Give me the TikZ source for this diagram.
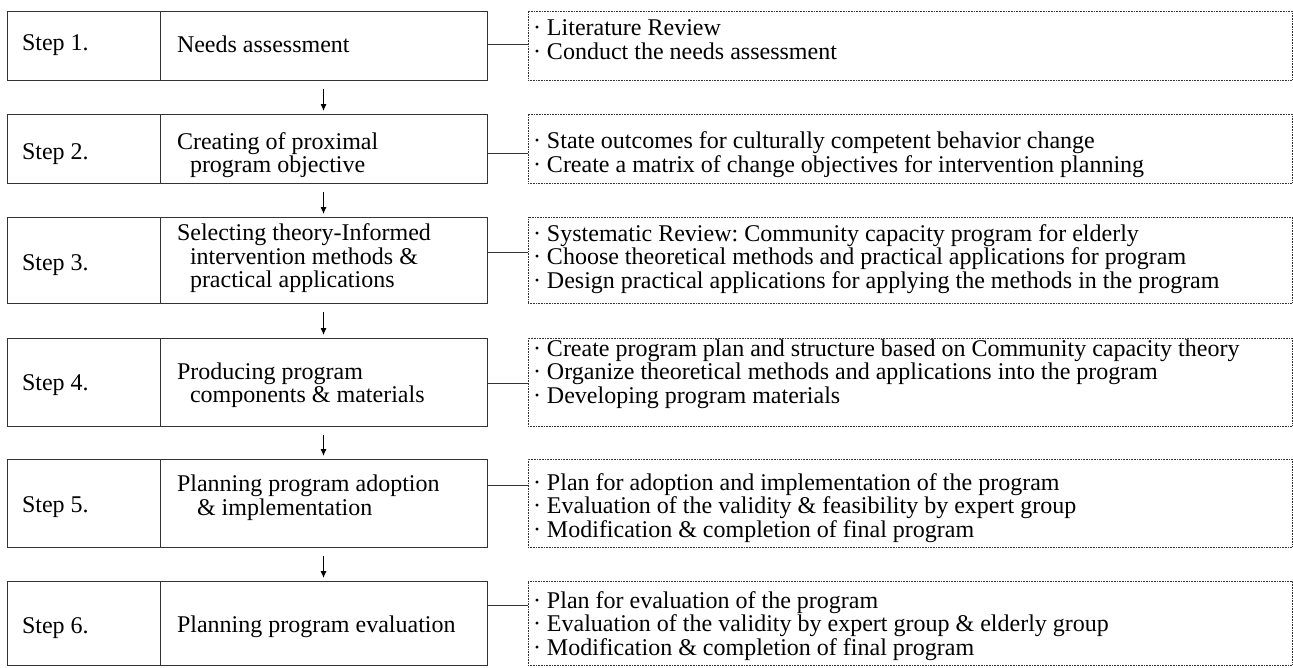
\documentclass[tikz,border=0pt]{standalone}
\usepackage{fontspec}
\setmainfont{Liberation Serif}
\usetikzlibrary{arrows.meta, positioning}
\definecolor{boxline}{HTML}{333333}

\begin{document}
\frenchspacing
\begin{tikzpicture}[
  x=1pt, y=1pt,
  node distance=34pt and 0pt,
  every node/.style={font=\fontsize{24}{23.5}\selectfont},
  labbox/.style={rectangle, draw=boxline, line width=1pt, outer sep=0pt, minimum width=153pt},
  titlebox/.style={rectangle, draw=boxline, line width=1pt, outer sep=0pt, minimum width=327pt},
  notebox/.style={rectangle, draw=boxline, densely dotted, line width=0.6pt, outer sep=0pt, minimum width=764pt},
  boxtext/.style={inner sep=0pt, outer sep=0pt, anchor=west, align=flush left},
  arrow/.style={-{Latex[length=7pt,width=6pt]}, line width=1pt, shorten <=9pt, shorten >=3pt},
  link/.style={line width=0.9pt, draw=boxline}
]
  \useasboundingbox (0,0) rectangle (1293,-667);

  % step 1
  \node[labbox, minimum height=69pt, anchor=north west] (lab1) at (7,-11) {};
  \node[titlebox, minimum height=69pt, right=0pt of lab1] (st1) {};
  \node[notebox, minimum height=69pt, right=41pt of st1] (nt1) {};
  \node[boxtext, right=17pt of st1.west, yshift=1pt] (tt1) {Needs assessment};
  \node[boxtext, right=5pt of nt1.west, yshift=6pt] (tx1) {· Literature Review\\· Conduct the needs assessment};

  % step 2
  \node[labbox, minimum height=69pt, below=of lab1] (lab2) {};
  \node[titlebox, minimum height=69pt, right=0pt of lab2] (st2) {};
  \node[notebox, minimum height=69pt, right=41pt of st2] (nt2) {};
  \node[boxtext, right=17pt of st2.west, yshift=-6.5pt] (tt2) {Creating of proximal\\\hspace*{13pt}program objective};
  \node[boxtext, right=5pt of nt2.west, yshift=-6pt] (tx2) {· State outcomes for culturally competent behavior change\\· Create a matrix of change objectives for intervention planning};

  % step 3
  \node[labbox, minimum height=86pt, below=of lab2] (lab3) {};
  \node[titlebox, minimum height=86pt, right=0pt of lab3] (st3) {};
  \node[notebox, minimum height=86pt, right=41pt of st3] (nt3) {};
  \node[boxtext, right=17pt of st3.west, yshift=1.5pt] (tt3) {Selecting theory-Informed\\\hspace*{13pt}intervention methods \&\\\hspace*{13pt}practical applications};
  \node[boxtext, right=5pt of nt3.west, yshift=1pt] (tx3) {· Systematic Review: Community capacity program for elderly\\· Choose theoretical methods and practical applications for program\\· Design practical applications for applying the methods in the program};

  % step 4
  \node[labbox, minimum height=88pt, below=35pt of lab3] (lab4) {};
  \node[titlebox, minimum height=88pt, right=0pt of lab4] (st4) {};
  \node[notebox, minimum height=88pt, right=41pt of st4] (nt4) {};
  \node[boxtext, right=17pt of st4.west, yshift=-3pt] (tt4) {Producing program\\\hspace*{13pt}components \& materials};
  \node[boxtext, right=5pt of nt4.west, yshift=8pt] (tx4) {· Create program plan and structure based on Community capacity theory\\· Organize theoretical methods and applications into the program\\· Developing program materials};

  % step 5
  \node[labbox, minimum height=88pt, below=33pt of lab4] (lab5) {};
  \node[titlebox, minimum height=88pt, right=0pt of lab5] (st5) {};
  \node[notebox, minimum height=88pt, right=41pt of st5] (nt5) {};
  \node[boxtext, right=17pt of st5.west, yshift=5.5pt] (tt5) {Planning program adoption\\\hspace*{20pt}\& implementation};
  \node[boxtext, right=5pt of nt5.west, yshift=-5pt] (tx5) {· Plan for adoption and implementation of the program\\· Evaluation of the validity \& feasibility by expert group\\· Modification \& completion of final program};

  % step 6
  \node[labbox, minimum height=84pt, below=of lab5] (lab6) {};
  \node[titlebox, minimum height=84pt, right=0pt of lab6] (st6) {};
  \node[notebox, minimum height=84pt, right=41pt of st6] (nt6) {};
  \node[boxtext, right=17pt of st6.west, yshift=-4pt] (tt6) {Planning program evaluation};
  \node[boxtext, right=5pt of nt6.west, yshift=-3pt] (tx6) {· Plan for evaluation of the program\\· Evaluation of the validity by expert group \& elderly group\\· Modification \& completion of final program};

  \foreach \i/\dy in {1/0, 2/-6, 3/-5, 4/-3, 5/-4, 6/-5}
    \node[boxtext, right=15pt of lab\i.west, yshift=\dy pt] (lt\i) {Step \i.};

  \foreach \i/\dy in {1/1.5, 2/-4.5, 3/8, 4/-1, 5/18, 6/18}
    \draw[link] ([yshift=\dy pt]st\i.east) -- ([yshift=\dy pt]nt\i.west);

  \foreach \i/\j in {1/2, 2/3, 3/4, 4/5, 5/6}
    \draw[arrow] (st\i.south) -- (st\j.north);
\end{tikzpicture}
\end{document}
